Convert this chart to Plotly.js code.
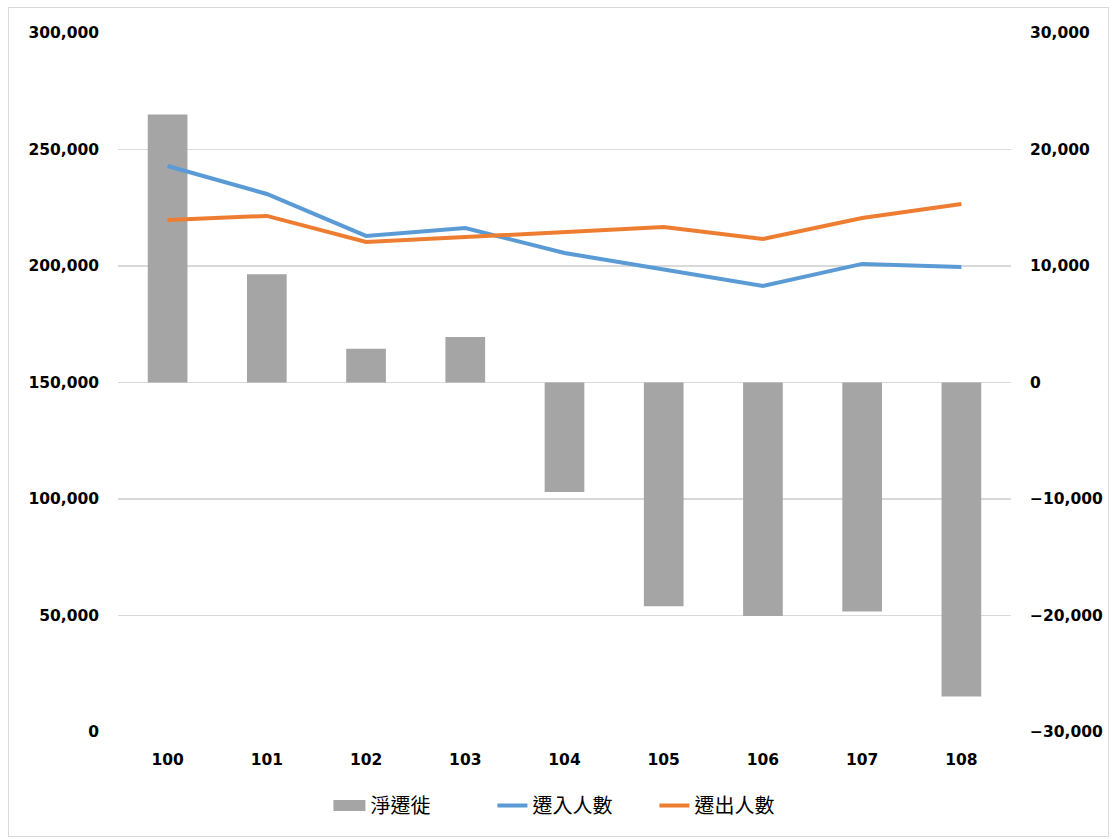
<!DOCTYPE html>
<html>
<head>
<meta charset="utf-8">
<script src="https://cdn.plot.ly/plotly-3.0.1.min.js"></script>
<style>
html,body{margin:0;padding:0;background:#fff;}
#chart{width:1115px;height:839px;}
#frame{position:absolute;left:8px;top:7px;width:1099px;height:828px;border:1px solid #d9d9d9;pointer-events:none;}
</style>
</head>
<body>
<div id="chart"></div>
<div id="frame"></div>
<script>
const years = ['100','101','102','103','104','105','106','107','108'];
const netMigration = [23000, 9300, 2900, 3900, -9400, -19200, -20050, -19650, -26950];
const movedIn = [242900, 230900, 212900, 216300, 205600, 198300, 191400, 200900, 199600];
const movedOut = [219700, 221500, 210300, 212400, 214600, 216700, 211600, 220600, 226600];
const seriesNames = ['淨遷徙', '遷入人數', '遷出人數'];

const tickFont = {family: '"DejaVu Sans", sans-serif', size: 15.5, color: '#000', weight: 'bold'};

const data = [
  {type: 'bar', x: years, y: netMigration, name: seriesNames[0], yaxis: 'y',
   marker: {color: '#a5a5a5'}},
  {type: 'scatter', mode: 'lines', x: years, y: movedIn, name: seriesNames[1], yaxis: 'y2',
   line: {color: '#5b9bd5', width: 4}},
  {type: 'scatter', mode: 'lines', x: years, y: movedOut, name: seriesNames[2], yaxis: 'y2',
   line: {color: '#ed7d31', width: 4}}
];

const layout = {
  width: 1115, height: 839,
  margin: {l: 118, r: 104, t: 33, b: 107},
  paper_bgcolor: '#fff', plot_bgcolor: '#fff',
  bargap: 0.6,
  showlegend: true,
  legend: {orientation: 'h', x: 0.51, xanchor: 'center', y: -0.105, yanchor: 'middle',
           font: {family: '"Noto Sans CJK TC", sans-serif', size: 20, color: '#000'},
           traceorder: 'normal', entrywidth: 117},
  xaxis: {type: 'category', showgrid: false, zeroline: false, showline: false,
          tickfont: tickFont, ticks: '', ticklabelstandoff: 16},
  yaxis: {side: 'right', range: [-30000, 30000], dtick: 10000, tickformat: ',d',
          showgrid: true, gridcolor: '#d9d9d9', gridwidth: 1.5,
          zeroline: true, zerolinecolor: '#d9d9d9', zerolinewidth: 1.5,
          showline: false, tickfont: tickFont, ticks: '', ticklabelstandoff: 18},
  yaxis2: {side: 'left', overlaying: 'y', range: [0, 300000], dtick: 50000, tickformat: ',d',
           showgrid: false, zeroline: false, showline: false,
           tickfont: tickFont, ticks: '', ticklabelstandoff: 18}
};

Plotly.newPlot('chart', data, layout, {displayModeBar: false, staticPlot: true}).then(function (gd) {
  // widen the bar legend swatch into a rectangle, as in the reference
  const pts = gd.querySelectorAll('.legend .traces .legendpoints path');
  if (pts.length) {
    pts[0].setAttribute('d', 'M-17,5.5H15V-5.5H-17Z');
  }
});
</script>
</body>
</html>
